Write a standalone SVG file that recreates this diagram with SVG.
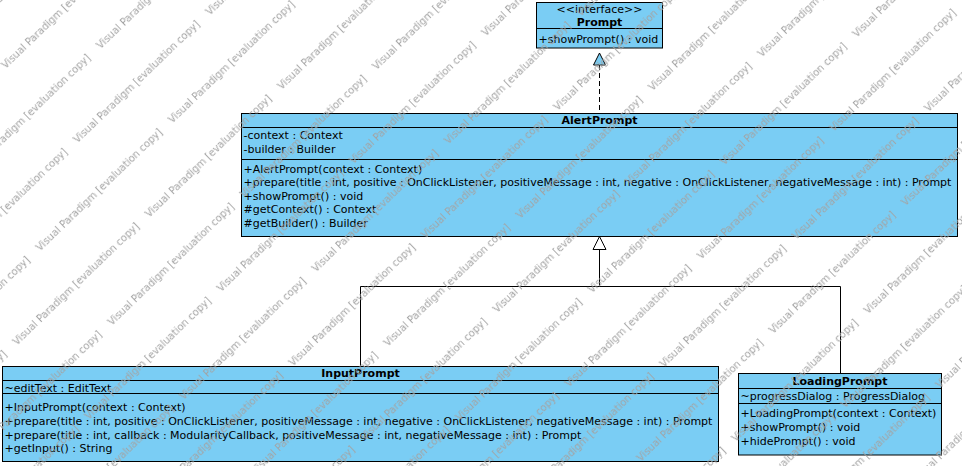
<svg xmlns="http://www.w3.org/2000/svg" width="962" height="466" viewBox="0 0 962 466">
<style>
.box{fill:#7acdf4;stroke:#000;stroke-width:1}
.sep{stroke:#000;stroke-width:1}
.t{font-family:"DejaVu Sans","Liberation Sans",sans-serif;font-size:11px;fill:#000}
.h{font-weight:bold;text-anchor:middle}
.c{text-anchor:middle}
.ln{fill:none;stroke:#000;stroke-width:1}
.wm{font-family:"DejaVu Sans","Liberation Sans",sans-serif;font-size:10px;fill:#a3a3a3}
</style>
<defs>
<pattern id="wmp" patternUnits="userSpaceOnUse" x="0" y="0" width="184" height="103.4" patternTransform="rotate(-44)">
<text class="wm" x="38" y="1.8">Visual Paradigm [evaluation copy]</text>
<text class="wm" x="-146" y="1.8">Visual Paradigm [evaluation copy]</text>
<text class="wm" x="38" y="105.2">Visual Paradigm [evaluation copy]</text>
<text class="wm" x="-146" y="105.2">Visual Paradigm [evaluation copy]</text>
<text class="wm" x="140" y="53.5">Visual Paradigm [evaluation copy]</text>
<text class="wm" x="-44" y="53.5">Visual Paradigm [evaluation copy]</text>
</pattern>
</defs>
<rect x="0" y="0" width="962" height="466" fill="#fff"/>

<g id="connectors">
<line class="ln" x1="599.5" y1="65" x2="599.5" y2="113.5" stroke-dasharray="5,3"/>
<polygon points="599.5,53 593.5,65 605.5,65" fill="#7acdf4" stroke="#000"/>
<polyline class="ln" points="360.5,366.5 360.5,286.5 840.5,286.5 840.5,373.5"/>
<line class="ln" x1="599.5" y1="286.5" x2="599.5" y2="249.5"/>
<polygon points="599.5,236.5 593,249.5 606,249.5" fill="#fff" stroke="#000"/>
</g>

<g id="Prompt">
<rect class="box" x="536.5" y="2.5" width="126" height="45.5"/>
<line class="sep" x1="536.5" y1="28.5" x2="662.5" y2="28.5"/>
<text class="t c" x="599.5" y="13">&lt;&lt;interface&gt;&gt;</text>
<text class="t h" x="599.5" y="26">Prompt</text>
<text class="t" x="538.5" y="43">+showPrompt() : void</text>
</g>

<g id="AlertPrompt">
<rect class="box" x="241.5" y="113.5" width="716" height="123"/>
<line class="sep" x1="241.5" y1="127.5" x2="957.5" y2="127.5"/>
<line class="sep" x1="241.5" y1="159.5" x2="957.5" y2="159.5"/>
<text class="t h" x="599.5" y="124">AlertPrompt</text>
<text class="t" x="243.5" y="138.5">-context : Context</text>
<text class="t" x="243.5" y="152.5">-builder : Builder</text>
<text class="t" x="243.5" y="172.5">+AlertPrompt(context : Context)</text>
<text class="t" x="243.5" y="186">+prepare(title : int, positive : OnClickListener, positiveMessage : int, negative : OnClickListener, negativeMessage : int) : Prompt</text>
<text class="t" x="243.5" y="199.5">+showPrompt() : void</text>
<text class="t" x="243.5" y="213">#getContext() : Context</text>
<text class="t" x="243.5" y="226.5">#getBuilder() : Builder</text>
</g>

<g id="InputPrompt">
<rect class="box" x="2.5" y="366.5" width="716" height="95"/>
<line class="sep" x1="2.5" y1="380.5" x2="718.5" y2="380.5"/>
<line class="sep" x1="2.5" y1="393.5" x2="718.5" y2="393.5"/>
<text class="t h" x="360.5" y="377">InputPrompt</text>
<text class="t" x="4.5" y="391.5">~editText : EditText</text>
<text class="t" x="4.5" y="411">+InputPrompt(context : Context)</text>
<text class="t" x="4.5" y="425">+prepare(title : int, positive : OnClickListener, positiveMessage : int, negative : OnClickListener, negativeMessage : int) : Prompt</text>
<text class="t" x="4.5" y="438.5">+prepare(title : int, callback : ModularityCallback, positiveMessage : int, negativeMessage : int) : Prompt</text>
<text class="t" x="4.5" y="452">+getInput() : String</text>
</g>

<g id="LoadingPrompt">
<rect class="box" x="738.5" y="373.5" width="203" height="81.5"/>
<line class="sep" x1="738.5" y1="388.5" x2="941.5" y2="388.5"/>
<line class="sep" x1="738.5" y1="403.5" x2="941.5" y2="403.5"/>
<text class="t h" x="840" y="384.5">LoadingPrompt</text>
<text class="t" x="740.5" y="400">~progressDialog : ProgressDialog</text>
<text class="t" x="740.5" y="417">+LoadingPrompt(context : Context)</text>
<text class="t" x="740.5" y="431">+showPrompt() : void</text>
<text class="t" x="740.5" y="445">+hidePrompt() : void</text>
</g>

<rect x="0" y="0" width="962" height="466" fill="url(#wmp)"/>
</svg>
